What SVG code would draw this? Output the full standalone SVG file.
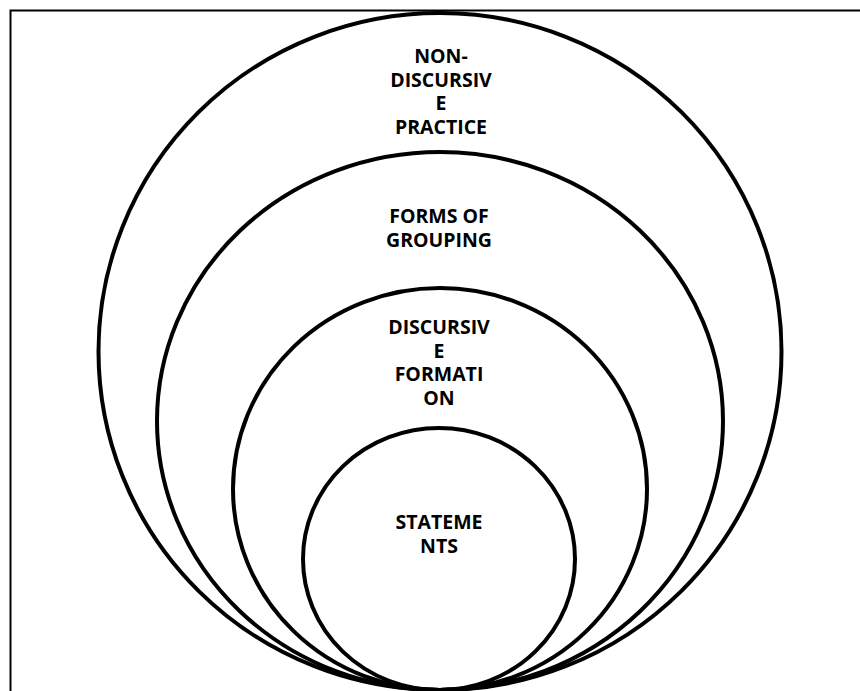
<svg xmlns="http://www.w3.org/2000/svg" width="860" height="691" viewBox="0 0 860 691">
  <style>
    .ring { fill: none; stroke: #000; stroke-width: 4; }
    .label { font-family: "Open Sans", "Liberation Sans", sans-serif; font-weight: 700; font-size: 19.5px; fill: #000; text-anchor: middle; }
  </style>
  <rect x="0" y="0" width="860" height="691" fill="#fff"/>
  <!-- page frame -->
  <rect x="10.5" y="10.5" width="870" height="700" fill="none" stroke="#000" stroke-width="2"/>

  <g id="non-discursive-practice">
    <ellipse class="ring" cx="440" cy="351.5" rx="341.5" ry="338.5"/>
    <text class="label" x="441" y="63">NON-</text>
    <text class="label" x="441" y="86.5">DISCURSIV</text>
    <text class="label" x="441" y="110">E</text>
    <text class="label" x="441" y="133.5">PRACTICE</text>
  </g>

  <g id="forms-of-grouping">
    <ellipse class="ring" cx="440" cy="421" rx="283" ry="269"/>
    <text class="label" x="439" y="223">FORMS OF</text>
    <text class="label" x="439" y="247">GROUPING</text>
  </g>

  <g id="discursive-formation">
    <ellipse class="ring" cx="440" cy="489" rx="207" ry="201"/>
    <text class="label" x="439" y="334">DISCURSIV</text>
    <text class="label" x="439" y="357.5">E</text>
    <text class="label" x="439" y="381">FORMATI</text>
    <text class="label" x="439" y="404.5">ON</text>
  </g>

  <g id="statements">
    <ellipse class="ring" cx="439" cy="559" rx="136" ry="131"/>
    <text class="label" x="439" y="529">STATEME</text>
    <text class="label" x="439" y="553">NTS</text>
  </g>
</svg>
